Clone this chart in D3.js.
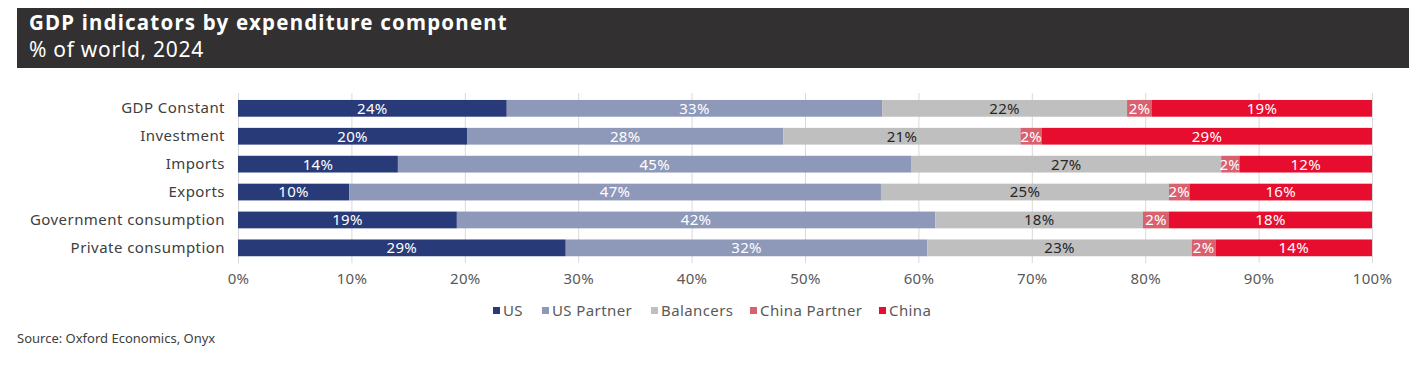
<!DOCTYPE html>
<html>
<head>
<meta charset="utf-8">
<script src="https://cdn.jsdelivr.net/npm/d3@7"></script>
<style>
    body { margin: 0; background: #fff; }
    svg text { font-family: "Noto Sans", sans-serif; }
</style>
</head>
<body>
<svg id="chart" width="1427" height="367"></svg>
<script>
// categories, top to bottom
var categories = ["GDP Constant", "Investment", "Imports", "Exports", "Government consumption", "Private consumption"];
var seriesNames = ["US", "US Partner", "Balancers", "China Partner", "China"];

// % of world, per series (same order as categories)
var usValues        = [23.7, 20.2, 14.1,  9.8, 19.3, 28.9];
var usPartnerValues = [33.1, 27.9, 45.3, 46.9, 42.2, 31.9];
var balancerValues  = [21.6, 20.9, 27.3, 25.4, 18.3, 23.3];
var chinaPartValues = [ 2.2,  1.9,  1.6,  1.8,  2.3,  2.1];
var chinaValues     = [19.4, 29.1, 11.7, 16.1, 17.9, 13.8];

var xTicks = [0, 10, 20, 30, 40, 50, 60, 70, 80, 90, 100];

var colors = ["#283a78", "#8e98b9", "#bfbfbf", "#d9606e", "#e60d2e"];
var labelColors = ["#fff", "#fff", "#262626", "#fff", "#fff"];

var svg = d3.select("#chart");

// header box
svg.append("rect")
    .attr("x", 17).attr("y", 8)
    .attr("width", 1392).attr("height", 60)
    .attr("fill", "#323031");
svg.append("text")
    .attr("x", 29).attr("y", 30)
    .attr("fill", "#fff")
    .attr("font-size", 20.5).attr("font-weight", "bold")
    .attr("letter-spacing", 1.2)
    .text("GDP indicators by expenditure component");
svg.append("text")
    .attr("x", 29).attr("y", 57)
    .attr("fill", "#fff")
    .attr("font-size", 21)
    .attr("letter-spacing", 0.7)
    .text("% of world, 2024");

var x = d3.scaleLinear().domain([0, 100]).range([238, 1372]);
var y = d3.scaleBand().domain(categories).range([88.8, 267.4]).padding(0.4);

// build stack rows
var rows = categories.map(function (c, i) {
    return {
        cat: c,
        "US": usValues[i],
        "US Partner": usPartnerValues[i],
        "Balancers": balancerValues[i],
        "China Partner": chinaPartValues[i],
        "China": chinaValues[i]
    };
});
var stacked = d3.stack().keys(seriesNames)(rows);

// gridlines
svg.append("g")
    .selectAll("line")
    .data(xTicks)
    .enter().append("line")
    .attr("x1", function (d) { return x(d) + 0.5; })
    .attr("x2", function (d) { return x(d) + 0.5; })
    .attr("y1", 93).attr("y2", 263)
    .attr("stroke", "#d9d9d9")
    .attr("stroke-width", 1);

// bars
var layers = svg.append("g")
    .selectAll("g")
    .data(stacked)
    .enter().append("g")
    .attr("fill", function (d, i) { return colors[i]; });

layers.selectAll("rect")
    .data(function (d) { return d; })
    .enter().append("rect")
    .attr("x", function (d) { return x(d[0]); })
    .attr("width", function (d) { return x(d[1]) - x(d[0]); })
    .attr("y", function (d) { return y(d.data.cat); })
    .attr("height", y.bandwidth());

// data labels
layers.selectAll("text")
    .data(function (d, i) { return d.map(function (p) { p.si = i; return p; }); })
    .enter().append("text")
    .attr("x", function (d) { return (x(d[0]) + x(d[1])) / 2; })
    .attr("y", function (d) { return y(d.data.cat) + y.bandwidth() / 2; })
    .attr("dy", "0.36em")
    .attr("text-anchor", "middle")
    .attr("font-size", 15)
    .attr("letter-spacing", 0.3)
    .attr("fill", function (d) { return labelColors[d.si]; })
    .text(function (d) { return Math.round(d[1] - d[0]) + "%"; });

// category axis
var yAxis = svg.append("g")
    .attr("transform", "translate(238,0)")
    .call(d3.axisLeft(y).tickSize(0).tickPadding(13));
yAxis.select(".domain").remove();
yAxis.selectAll("text")
    .attr("font-size", 15)
    .attr("letter-spacing", 0.45)
    .attr("fill", "#404040")
    .style("font-family", "'Noto Sans', sans-serif");

// x axis
var xAxis = svg.append("g")
    .attr("transform", "translate(0,263)")
    .call(d3.axisBottom(x).tickValues(xTicks).tickSize(0).tickPadding(10)
        .tickFormat(function (d) { return d + "%"; }));
xAxis.select(".domain").remove();
xAxis.selectAll("text")
    .attr("font-size", 15)
    .attr("letter-spacing", 0.3)
    .attr("fill", "#595959")
    .style("font-family", "'Noto Sans', sans-serif");

// legend
var legendX = [493, 542, 651, 750, 879];
var legend = svg.append("g")
    .selectAll("g")
    .data(seriesNames)
    .enter().append("g")
    .attr("transform", function (d, i) { return "translate(" + legendX[i] + ",311)"; });
legend.append("rect")
    .attr("x", 0).attr("y", -4)
    .attr("width", 7).attr("height", 7)
    .attr("fill", function (d, i) { return colors[i]; });
legend.append("text")
    .attr("x", 10).attr("dy", "0.35em")
    .attr("font-size", 15)
    .attr("letter-spacing", 0.4)
    .attr("fill", "#595959")
    .text(function (d) { return d; });

// source
svg.append("text")
    .attr("x", 17).attr("y", 343)
    .attr("font-size", 13)
    .attr("fill", "#404040")
    .text("Source: Oxford Economics, Onyx");
</script>
</body>
</html>
